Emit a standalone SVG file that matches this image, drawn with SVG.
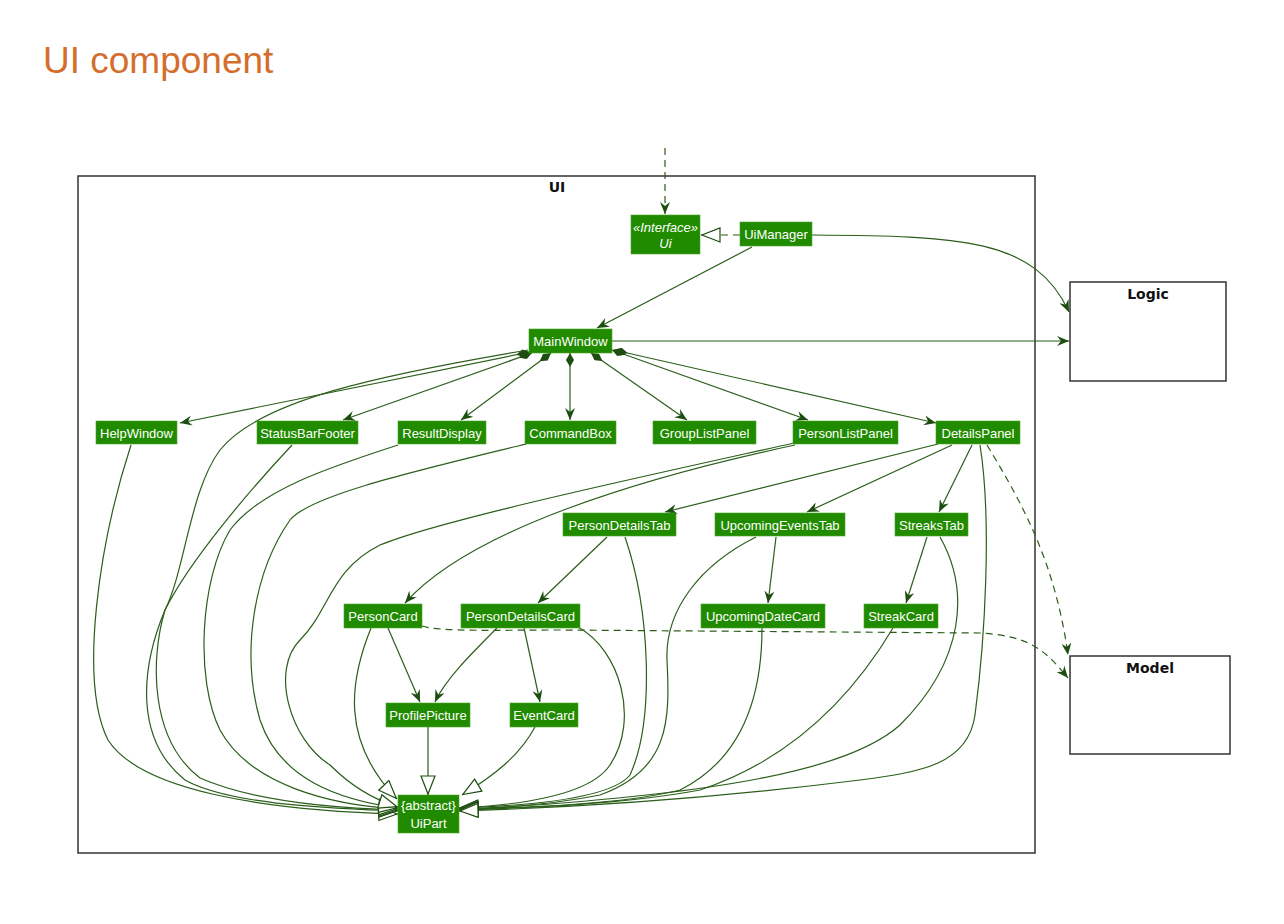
<svg xmlns="http://www.w3.org/2000/svg" width="1284" height="924" viewBox="0 0 1284 924">
<style>
.node rect{fill:#218b00;stroke:#4aa52a;stroke-width:0.6}
.node text{font-family:"Liberation Sans",Arial,sans-serif;font-size:13px;fill:#ffffff;text-anchor:middle}
.it{font-style:italic}
.pkg{fill:none;stroke:#333333;stroke-width:1.5}
.pkgt{font-family:"DejaVu Sans",Verdana,sans-serif;font-size:14px;font-weight:bold;fill:#111111;text-anchor:middle}
.e{fill:none;stroke:#2b5e1a;stroke-width:1.2}
.d{stroke-dasharray:7,5}
.a{marker-end:url(#arr)}
.g{marker-end:url(#tri)}
.c{marker-start:url(#dia)}
</style>
<defs>
<marker id="arr" viewBox="0 0 12 10" refX="12" refY="5" markerWidth="12" markerHeight="10" orient="auto" markerUnits="userSpaceOnUse"><path d="M0,0 L12,5 L0,10 L4,5 Z" fill="#1d4d10"/></marker>
<marker id="tri" viewBox="0 0 20 16" refX="20" refY="8" markerWidth="20" markerHeight="16" orient="auto" markerUnits="userSpaceOnUse"><path d="M1,1 L19,8 L1,15 Z" fill="#ffffff" stroke="#1d4d10" stroke-width="1.2"/></marker>
<marker id="dia" viewBox="0 0 14 8" refX="0" refY="4" markerWidth="14" markerHeight="8" orient="auto" markerUnits="userSpaceOnUse"><path d="M0,4 L7,0 L14,4 L7,8 Z" fill="#1d4d10"/></marker>
</defs>
<rect width="1284" height="924" fill="#ffffff"/>
<text x="43" y="73" font-family="'Liberation Sans',Arial,sans-serif" font-size="37" fill="#d46e2c">UI component</text>

<g id="pkg-ui"><rect class="pkg" x="78" y="176" width="957" height="677"/><text class="pkgt" x="557" y="192">UI</text></g>
<g id="pkg-logic"><rect class="pkg" x="1070" y="282" width="156" height="99"/><text class="pkgt" x="1148" y="299">Logic</text></g>
<g id="pkg-model"><rect class="pkg" x="1070" y="656" width="160" height="98"/><text class="pkgt" x="1150" y="673">Model</text></g>

<g id="connectors">
<path class="e d a" d="M665,148 L665,214"/>
<path class="e d g" d="M740,235 L701,235"/>
<path class="e a" d="M812,235 C960,236 1035,238 1069,312"/>
<path class="e a" d="M752,247 L597,328"/>
<path class="e a" d="M612,341 L1069,341"/>
<path class="e c a" d="M530,352 L180,423"/>
<path class="e c a" d="M532,353 L343,420"/>
<path class="e c a" d="M551,353 L461,420"/>
<path class="e c a" d="M570,353 L570,420"/>
<path class="e c a" d="M591,353 L687,420"/>
<path class="e c a" d="M612,350 L808,420"/>
<path class="e c a" d="M614,350 L936,423"/>
<path class="e a" d="M938,444 L665,512"/>
<path class="e a" d="M952,445 L807,512"/>
<path class="e a" d="M972,445 L939,512"/>
<path class="e a" d="M795,445 C640,478 470,530 405,603"/>
<path class="e a" d="M607,537 L538,603"/>
<path class="e a" d="M776,537 L768,603"/>
<path class="e a" d="M927,537 L906,603"/>
<path class="e a" d="M388,628 L420,702"/>
<path class="e a" d="M497,628 C470,655 445,680 435,702"/>
<path class="e a" d="M524,628 L540,702"/>
<path class="e d a" d="M987,445 C1020,500 1055,560 1068,655"/>
<path class="e d a" d="M422,626 C440,632 500,630 560,630 L980,633 C1030,636 1045,650 1068,678"/>
<path class="e g" d="M131,445 C100,540 78,680 108,740 C140,790 260,810 398,814"/>
<path class="e g" d="M528,350 C380,375 260,400 220,450 C190,490 185,570 165,610 C140,670 135,740 185,780 C230,805 330,808 398,811"/>
<path class="e g" d="M292,445 C250,490 190,560 165,610 C150,660 150,740 200,778 C250,800 330,808 398,810"/>
<path class="e g" d="M398,445 C330,467 260,490 230,530 C200,580 195,680 220,730 C250,785 330,805 398,809"/>
<path class="e g" d="M526,444 C420,470 310,495 290,520 C255,570 240,650 260,720 C280,780 340,800 398,808"/>
<path class="e g" d="M794,443 C650,475 440,520 380,545 C330,570 330,610 300,640 C270,670 290,740 330,765 C350,785 375,800 398,807"/>
<path class="e g" d="M371,628 C350,680 340,740 397,799"/>
<path class="e g" d="M428,727 L428,795"/>
<path class="e g" d="M535,727 C520,755 495,775 462,795"/>
<path class="e g" d="M578,627 C620,650 640,720 610,765 C590,795 520,805 459,808"/>
<path class="e g" d="M625,537 C650,610 655,720 630,775 C610,800 520,806 459,808"/>
<path class="e g" d="M756,537 C700,565 665,610 667,660 C670,720 670,770 600,795 C550,805 500,808 459,809"/>
<path class="e g" d="M762,628 C762,700 740,760 680,790 C620,805 520,808 459,809"/>
<path class="e g" d="M893,628 C850,700 790,760 700,790 C620,805 520,808 459,810"/>
<path class="e g" d="M940,537 C970,590 965,660 900,725 C850,770 720,795 459,810"/>
<path class="e g" d="M980,445 C992,520 985,640 975,715 C968,765 920,772 860,780 C700,800 560,808 459,811"/>
</g>

<g id="ui" class="node"><rect x="631" y="215" width="69" height="39"/><text class="it" x="665.5" y="232" font-size="12">«Interface»</text><text class="it" x="665.5" y="248">Ui</text></g>
<g id="uimanager" class="node"><rect x="740" y="222" width="72" height="24"/><text x="776" y="239">UiManager</text></g>
<g id="mainwindow" class="node"><rect x="529" y="329" width="83" height="24"/><text x="570.5" y="346">MainWindow</text></g>
<g id="helpwindow" class="node"><rect x="96" y="421" width="81" height="23"/><text x="136.5" y="437.5">HelpWindow</text></g>
<g id="statusbarfooter" class="node"><rect x="257" y="421" width="101" height="23"/><text x="307.5" y="437.5">StatusBarFooter</text></g>
<g id="resultdisplay" class="node"><rect x="398" y="421" width="88" height="23"/><text x="442" y="437.5">ResultDisplay</text></g>
<g id="commandbox" class="node"><rect x="525" y="421" width="91" height="23"/><text x="570.5" y="437.5">CommandBox</text></g>
<g id="grouplistpanel" class="node"><rect x="653" y="421" width="103" height="23"/><text x="704.5" y="437.5">GroupListPanel</text></g>
<g id="personlistpanel" class="node"><rect x="793" y="421" width="105" height="23"/><text x="845.5" y="437.5">PersonListPanel</text></g>
<g id="detailspanel" class="node"><rect x="936" y="421" width="84" height="23"/><text x="978" y="437.5">DetailsPanel</text></g>
<g id="persondetailstab" class="node"><rect x="563" y="513" width="113" height="23"/><text x="619.5" y="529.5">PersonDetailsTab</text></g>
<g id="upcomingeventstab" class="node"><rect x="715" y="513" width="130" height="23"/><text x="780" y="529.5">UpcomingEventsTab</text></g>
<g id="streakstab" class="node"><rect x="895" y="513" width="73" height="23"/><text x="931.5" y="529.5">StreaksTab</text></g>
<g id="personcard" class="node"><rect x="344" y="604" width="78" height="24"/><text x="383" y="621">PersonCard</text></g>
<g id="persondetailscard" class="node"><rect x="461" y="604" width="119" height="24"/><text x="520.5" y="621">PersonDetailsCard</text></g>
<g id="upcomingdatecard" class="node"><rect x="701" y="604" width="124" height="24"/><text x="763" y="621">UpcomingDateCard</text></g>
<g id="streakcard" class="node"><rect x="864" y="604" width="74" height="24"/><text x="901" y="621">StreakCard</text></g>
<g id="profilepicture" class="node"><rect x="386" y="703" width="84" height="24"/><text x="428" y="720">ProfilePicture</text></g>
<g id="eventcard" class="node"><rect x="510" y="703" width="68" height="24"/><text x="544" y="720">EventCard</text></g>
<g id="uipart" class="node"><rect x="398" y="795" width="61" height="38"/><text x="428.5" y="810">{abstract}</text><text x="428.5" y="828">UiPart</text></g>
</svg>
